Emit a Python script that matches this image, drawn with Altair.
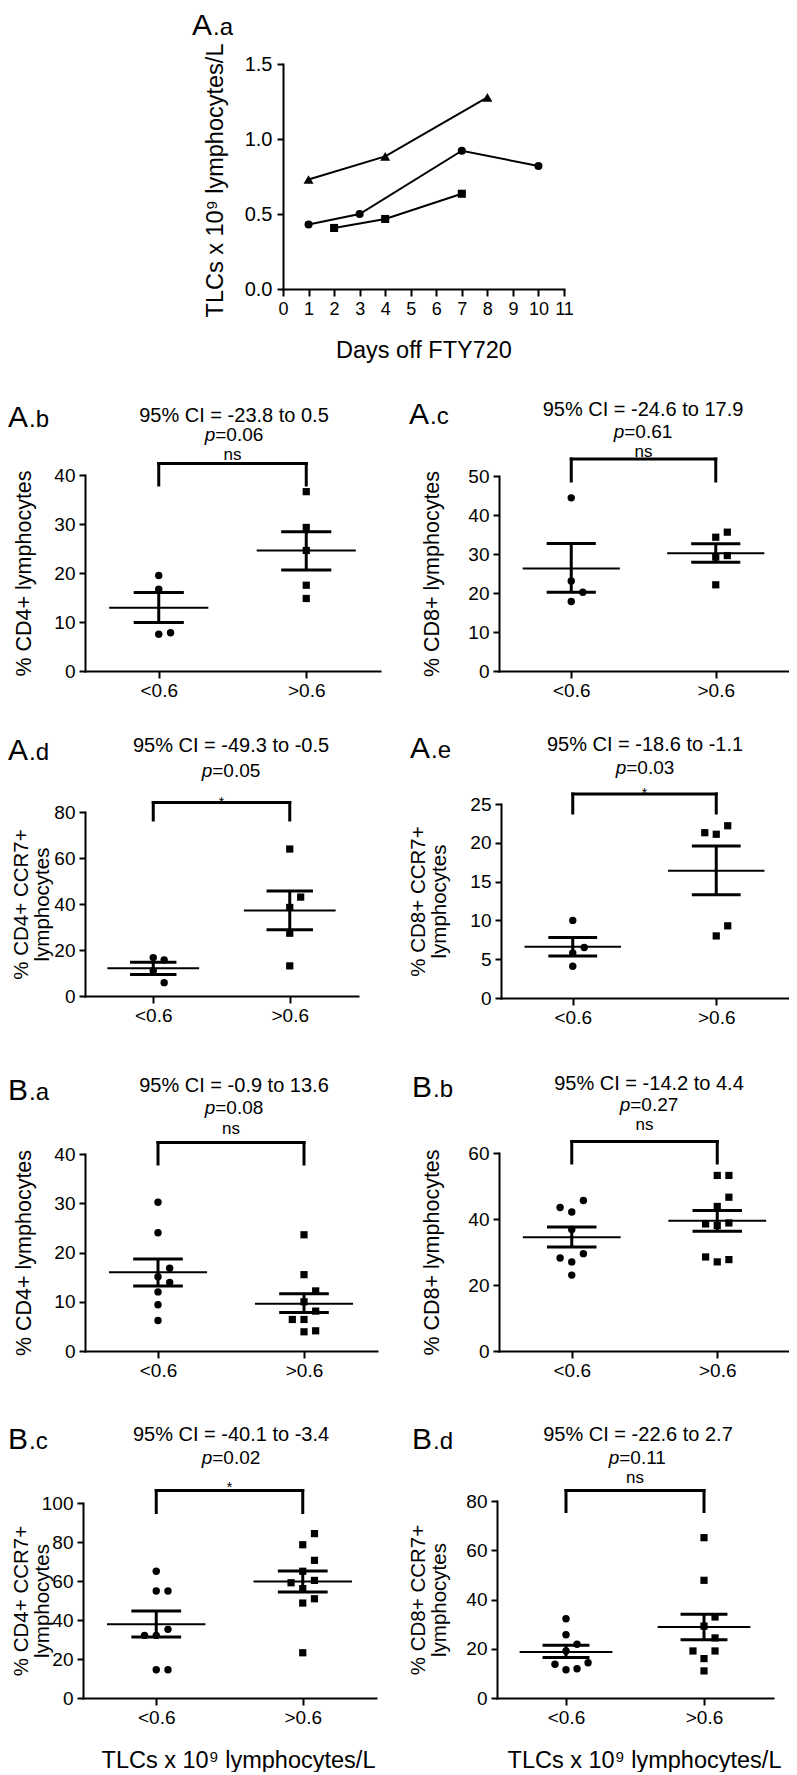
import altair as alt
import pandas as pd

FONT = "Liberation Sans"
OFF = 8            # page margin (chart origin on the page)
W, H = 781, 1764   # whole drawing area

# ---------------- Panel A.a : TLCs vs days off FTY720 ----------------
SERIES = ["Patient 1", "Patient 2", "Patient 3"]
P1_DAYS = [1, 4, 8]
P1_TLC = [0.73, 0.884, 1.277]
P2_DAYS = [1, 3, 7, 10]
P2_TLC = [0.43, 0.50, 0.922, 0.82]
P3_DAYS = [2, 4, 7]
P3_TLC = [0.407, 0.467, 0.635]
AA_XTICKS = list(range(0, 12))
AA_YTICKS = [0.0, 0.5, 1.0, 1.5]

# ---------------- Scatter panels ----------------
GROUPS = ["<0.6", ">0.6"]

AB_LOW = [19.5, 16.7, 7.5, 7.8]
AB_HIGH = [36.6, 29.3, 24.6, 17.5, 14.8]
AB_MEAN = [12.9, 24.6]
AB_SEM_LO = [9.9, 20.6]
AB_SEM_HI = [16.0, 28.4]

AC_LOW = [44.4, 23.1, 20.2, 17.8]
AC_HIGH = [34.3, 35.6, 29.2, 29.6, 22.1]
AC_MEAN = [26.3, 30.2]
AC_SEM_LO = [20.2, 27.9]
AC_SEM_HI = [32.7, 32.6]

AD_LOW = [16.7, 15.7, 11.0, 5.8]
AD_HIGH = [63.9, 38.5, 43.0, 27.3, 13.1]
AD_MEAN = [12.1, 37.2]
AD_SEM_LO = [9.4, 28.8]
AD_SEM_HI = [14.7, 45.7]

AE_LOW = [10.0, 5.8, 6.5, 4.1]
AE_HIGH = [21.1, 22.2, 21.3, 8.0, 9.3]
AE_MEAN = [6.6, 16.4]
AE_SEM_LO = [5.4, 13.3]
AE_SEM_HI = [7.8, 19.6]

BA_LOW = [30.2, 24.0, 15.1, 12.0, 9.4, 6.2, 13.9, 16.8]
BA_HIGH = [23.6, 15.5, 10.0, 12.2, 6.4, 8.1, 6.4, 3.9, 4.1]
BA_MEAN = [16.0, 9.6]
BA_SEM_LO = [13.2, 7.8]
BA_SEM_HI = [18.7, 11.6]

BB_LOW = [42.1, 45.6, 43.5, 36.8, 27.0, 29.5, 28.2, 23.0]
BB_HIGH = [43.8, 46.6, 53.2, 53.2, 38.0, 38.8, 38.5, 27.0, 27.7, 28.5]
BB_MEAN = [34.5, 39.5]
BB_SEM_LO = [31.5, 36.3]
BB_SEM_HI = [37.6, 42.6]

BC_LOW = [65.0, 54.9, 54.9, 32.1, 35.2, 32.1, 14.5, 14.5]
BC_HIGH = [78.6, 84.3, 65.0, 70.6, 56.1, 60.3, 59.1, 48.7, 50.9, 23.2]
BC_MEAN = [37.8, 59.8]
BC_SEM_LO = [31.3, 54.4]
BC_SEM_HI = [44.6, 65.1]

BD_LOW = [32.2, 25.7, 19.1, 21.8, 11.5, 11.9, 13.7, 14.3]
BD_HIGH = [65.1, 47.8, 29.2, 32.9, 24.4, 16.0, 19.1, 19.1, 11.0]
BD_MEAN = [18.7, 28.8]
BD_SEM_LO = [16.4, 23.7]
BD_SEM_HI = [21.4, 34.0]

CI_TEXT = {
    "A.b": "95% CI = -23.8 to 0.5", "A.c": "95% CI = -24.6 to 17.9",
    "A.d": "95% CI = -49.3 to -0.5", "A.e": "95% CI = -18.6 to -1.1",
    "B.a": "95% CI = -0.9 to 13.6", "B.b": "95% CI = -14.2 to 4.4",
    "B.c": "95% CI = -40.1 to -3.4", "B.d": "95% CI = -22.6 to 2.7",
}
P_TEXT = {"A.b": "0.06", "A.c": "0.61", "A.d": "0.05", "A.e": "0.03",
          "B.a": "0.08", "B.b": "0.27", "B.c": "0.02", "B.d": "0.11"}
SIG_TEXT = {"A.b": "ns", "A.c": "ns", "A.d": "*", "A.e": "*",
            "B.a": "ns", "B.b": "ns", "B.c": "*", "B.d": "ns"}
CD4 = "% CD4+ lymphocytes"
CD8 = "% CD8+ lymphocytes"
CD4R = ["% CD4+ CCR7+", "lymphocytes"]
CD8R = ["% CD8+ CCR7+", "lymphocytes"]
TLC_TITLE = "TLCs x 10\u2079 lymphocytes/L"

PANELS = [
    dict(key="A.b", low=AB_LOW, high=AB_HIGH, mean=AB_MEAN, lo=AB_SEM_LO, hi=AB_SEM_HI,
         ymax=40, yticks=[0, 10, 20, 30, 40], ytitle=CD4),
    dict(key="A.c", low=AC_LOW, high=AC_HIGH, mean=AC_MEAN, lo=AC_SEM_LO, hi=AC_SEM_HI,
         ymax=50, yticks=[0, 10, 20, 30, 40, 50], ytitle=CD8),
    dict(key="A.d", low=AD_LOW, high=AD_HIGH, mean=AD_MEAN, lo=AD_SEM_LO, hi=AD_SEM_HI,
         ymax=80, yticks=[0, 20, 40, 60, 80], ytitle=CD4R),
    dict(key="A.e", low=AE_LOW, high=AE_HIGH, mean=AE_MEAN, lo=AE_SEM_LO, hi=AE_SEM_HI,
         ymax=25, yticks=[0, 5, 10, 15, 20, 25], ytitle=CD8R),
    dict(key="B.a", low=BA_LOW, high=BA_HIGH, mean=BA_MEAN, lo=BA_SEM_LO, hi=BA_SEM_HI,
         ymax=40, yticks=[0, 10, 20, 30, 40], ytitle=CD4),
    dict(key="B.b", low=BB_LOW, high=BB_HIGH, mean=BB_MEAN, lo=BB_SEM_LO, hi=BB_SEM_HI,
         ymax=60, yticks=[0, 20, 40, 60], ytitle=CD8),
    dict(key="B.c", low=BC_LOW, high=BC_HIGH, mean=BC_MEAN, lo=BC_SEM_LO, hi=BC_SEM_HI,
         ymax=100, yticks=[0, 20, 40, 60, 80, 100], ytitle=CD4R, xtitle=TLC_TITLE),
    dict(key="B.d", low=BD_LOW, high=BD_HIGH, mean=BD_MEAN, lo=BD_SEM_LO, hi=BD_SEM_HI,
         ymax=80, yticks=[0, 20, 40, 60, 80], ytitle=CD8R, xtitle=TLC_TITLE),
]

# ---------------- layout (page pixels) ----------------
# tcx = anchor of the first line of the y-axis title
LAYOUT = {
    "A.b": dict(xl=85, xr=380, yt=475, yb=671, tcx=24, lx=8, lb=427, tx=234, ci=421.5, p=441, sig=460, br=463.5, leg=485),
    "A.c": dict(xl=499, xr=788, yt=476, yb=671, tcx=432, lx=409, lb=424, tx=643, ci=416, p=437.5, sig=457, br=459, leg=481),
    "A.d": dict(xl=85, xr=358, yt=812, yb=996, tcx=21, lx=8, lb=760, tx=231, ci=751.5, p=776.5, sig=807, br=802.5, leg=820),
    "A.e": dict(xl=501, xr=788, yt=804, yb=998, tcx=418, lx=410, lb=758, tx=645, ci=751, p=773.5, sig=798, br=794, leg=813),
    "B.a": dict(xl=85, xr=377, yt=1154, yb=1351, tcx=24, lx=8, lb=1100, tx=234, ci=1091.5, p=1114, sig=1133.5, br=1142.5, leg=1164),
    "B.b": dict(xl=499, xr=790, yt=1153, yb=1351, tcx=432, lx=412, lb=1097, tx=649, ci=1089.5, p=1110.5, sig=1130, br=1141.5, leg=1163),
    "B.c": dict(xl=83, xr=376, yt=1503, yb=1698, tcx=21, lx=8, lb=1449, tx=231, ci=1441, p=1463.5, sig=1492, br=1490.5, leg=1512.5, xtx=238, xty=1767),
    "B.d": dict(xl=497, xr=773, yt=1501, yb=1698, tcx=418, lx=412, lb=1449, tx=638, ci=1441, p=1463.5, sig=1483, br=1490.5, leg=1511.5, xtx=644, xty=1767),
}

MEAN_HALF = 0.336   # data units (x domain 0..2)
CAP_HALF = 0.17
STEP = 0.08
TS = 20             # CI text size
PS = 19             # p-value text size
NS = 17             # "ns" text size
ARIAL = {"p": 0.556, "=": 0.584, ".": 0.278}


def text_w(s, size):
    return sum(ARIAL.get(c, 0.556) for c in s) * size


def swarm(vals, ppu, thr=12.0):
    placed, out = [], []
    for v in vals:
        for c in (0, 1, -1, 2, -2, 3, -3):
            if all(pc != c or abs(pv - v) * ppu >= thr for pc, pv in placed):
                break
        placed.append((c, v))
        out.append(c * STEP)
    return out


def txt(s, x, y, size, style="normal", align="left", baseline="alphabetic"):
    return alt.Chart(pd.DataFrame({"t": [s]})).mark_text(
        font=FONT, fontSize=size, fontStyle=style, align=align,
        baseline=baseline, color="black"
    ).encode(x=alt.value(x - OFF), y=alt.value(y - OFF), text="t:N")


def hrule(x1, x2, y, w=3):
    return alt.Chart(pd.DataFrame({"a": [0]})).mark_rule(
        color="black", strokeWidth=w, strokeCap="square"
    ).encode(x=alt.value(x1 - OFF), x2=alt.value(x2 - OFF), y=alt.value(y - OFF))


def vrule(x, y1, y2, w=3):
    return alt.Chart(pd.DataFrame({"a": [0]})).mark_rule(
        color="black", strokeWidth=w, strokeCap="square"
    ).encode(x=alt.value(x - OFF), y=alt.value(y1 - OFF), y2=alt.value(y2 - OFF))


def panel_label(key, x, baseline):
    letter, suffix = key.split(".")
    return [txt(letter, x, baseline, 30), txt("." + suffix, x + 21, baseline, 24)]


def scatter(p):
    L = LAYOUT[p["key"]]
    xl, xr, yt, yb = L["xl"], L["xr"], L["yt"], L["yb"]

    def xs():
        return alt.Scale(domain=[0, 2], range=[xl - OFF, xr - OFF], nice=False, zero=False)

    def ys():
        return alt.Scale(domain=[0, p["ymax"]], range=[yb - OFF, yt - OFF], nice=False, zero=False)

    ppu = (yb - yt) / p["ymax"]
    rows = []
    for gi, vals in enumerate((p["low"], p["high"])):
        for v, o in zip(vals, swarm(vals, ppu)):
            rows.append({"group": GROUPS[gi], "pos": 0.5 + gi + o, "value": v})
    pts = pd.DataFrame(rows)
    stats = pd.DataFrame({"group": GROUPS, "c": [0.5, 1.5], "mean": p["mean"],
                          "lo": p["lo"], "hi": p["hi"]})
    stats["m1"] = stats["c"] - MEAN_HALF
    stats["m2"] = stats["c"] + MEAN_HALF
    stats["c1"] = stats["c"] - CAP_HALF
    stats["c2"] = stats["c"] + CAP_HALF

    xkw = dict(orient="bottom", offset=(yb - OFF) - H, values=[0.5, 1.5],
               labelExpr=f"datum.value < 1 ? '{GROUPS[0]}' : '{GROUPS[1]}'",
               tickSize=7, labelFontSize=19, labelPadding=3)
    if "xtitle" in p:
        xkw.update(title=p["xtitle"], titleX=L["xtx"] - OFF, titleY=L["xty"] - yb,
                   titleBaseline="alphabetic", titleFontSize=23.5)
    else:
        xkw["title"] = None
    xaxis = alt.Axis(**xkw)
    two_line = isinstance(p["ytitle"], list)
    yaxis = alt.Axis(orient="left", offset=-(xl - OFF), values=p["yticks"],
                     title=p["ytitle"], titleX=L["tcx"] - xl, titleBaseline="middle",
                     titleFontSize=20.5 if two_line else 21.5, titleLineHeight=21,
                     labelFontSize=19, labelPadding=4, tickSize=6)

    low_df = pts[pts["group"] == GROUPS[0]].reset_index(drop=True)
    high_df = pts[pts["group"] == GROUPS[1]].reset_index(drop=True)
    circ = alt.Chart(low_df).mark_circle(size=55, color="black", opacity=1).encode(
        x=alt.X("pos:Q", scale=xs(), axis=xaxis), y=alt.Y("value:Q", scale=ys(), axis=yaxis))
    sq = alt.Chart(high_df).mark_square(size=52, color="black", opacity=1).encode(
        x=alt.X("pos:Q", scale=xs(), axis=None), y=alt.Y("value:Q", scale=ys(), axis=None))
    base = alt.Chart(stats)
    meanl = base.mark_rule(color="black", strokeWidth=2).encode(
        x=alt.X("m1:Q", scale=xs(), axis=None), x2="m2:Q", y=alt.Y("mean:Q", scale=ys(), axis=None))
    caplo = base.mark_rule(color="black", strokeWidth=3).encode(
        x=alt.X("c1:Q", scale=xs(), axis=None), x2="c2:Q", y=alt.Y("lo:Q", scale=ys(), axis=None))
    caphi = base.mark_rule(color="black", strokeWidth=3).encode(
        x=alt.X("c1:Q", scale=xs(), axis=None), x2="c2:Q", y=alt.Y("hi:Q", scale=ys(), axis=None))
    vert = base.mark_rule(color="black", strokeWidth=3).encode(
        x=alt.X("c:Q", scale=xs(), axis=None), y=alt.Y("lo:Q", scale=ys(), axis=None), y2="hi:Q")
    layers = [circ, sq, meanl, caplo, caphi, vert]

    # annotations
    k = p["key"]
    layers += panel_label(k, L["lx"], L["lb"])
    layers.append(txt(CI_TEXT[k], L["tx"], L["ci"], TS, align="center"))
    rest = "=" + P_TEXT[k]
    wp, wr = text_w("p", PS), text_w(rest, PS)
    left = L["tx"] - (wp + wr) / 2
    layers.append(txt("p", left, L["p"], PS, style="italic"))
    layers.append(txt(rest, left + wp, L["p"], PS))
    c0 = xl + 0.25 * (xr - xl)
    c1 = xl + 0.75 * (xr - xl)
    sig = SIG_TEXT[k]
    layers.append(txt(sig, (c0 + c1) / 2, L["sig"], 14 if sig == "*" else NS, align="center"))
    layers.append(hrule(c0, c1, L["br"]))
    layers.append(vrule(c0, L["br"], L["leg"]))
    layers.append(vrule(c1, L["br"], L["leg"]))
    return layers


# ---------------- Panel A.a ----------------
aa_rows = []
for name, days, vals in zip(SERIES, (P1_DAYS, P2_DAYS, P3_DAYS), (P1_TLC, P2_TLC, P3_TLC)):
    for d, v in zip(days, vals):
        aa_rows.append({"series": name, "day": d, "tlc": v})
aa_df = pd.DataFrame(aa_rows)

AA_XL, AA_XR, AA_YT, AA_YB = 283, 564, 64, 289


def aa_xs():
    return alt.Scale(domain=[0, 11], range=[AA_XL - OFF, AA_XR - OFF], nice=False, zero=False)


def aa_ys():
    return alt.Scale(domain=[0, 1.5], range=[AA_YB - OFF, AA_YT - OFF], nice=False, zero=False)


aa_xaxis = alt.Axis(orient="bottom", offset=(AA_YB - OFF) - H, values=AA_XTICKS,
                    title="Days off FTY720", titleY=68, titleBaseline="alphabetic",
                    titleFontSize=23.5, tickSize=7, labelFontSize=18, labelPadding=4,
                    labelFlush=False)
aa_yaxis = alt.Axis(orient="left", offset=-(AA_XL - OFF), values=AA_YTICKS, format=".1f",
                    title=TLC_TITLE, titleX=215 - AA_XL, titleY=180 - OFF, titleBaseline="middle",
                    titleFontSize=23.5, labelFontSize=20, labelPadding=5, tickSize=6)
aa_lines = alt.Chart(aa_df).mark_line(color="black", strokeWidth=2).encode(
    x=alt.X("day:Q", scale=aa_xs(), axis=aa_xaxis),
    y=alt.Y("tlc:Q", scale=aa_ys(), axis=aa_yaxis),
    detail="series:N")
aa_pts = alt.Chart(aa_df).mark_point(filled=True, color="black", opacity=1).encode(
    x=alt.X("day:Q", scale=aa_xs(), axis=None),
    y=alt.Y("tlc:Q", scale=aa_ys(), axis=None),
    shape=alt.Shape("series:N", scale=alt.Scale(domain=SERIES, range=["triangle-up", "circle", "square"]),
                    legend=None),
    size=alt.condition(alt.datum.series == SERIES[0], alt.value(100), alt.value(65)))

all_layers = [aa_lines, aa_pts] + panel_label("A.a", 192, 35)
for p in PANELS:
    all_layers += scatter(p)

chart = alt.layer(*all_layers).resolve_scale(
    x="independent", y="independent", shape="independent"
).resolve_axis(
    x="independent", y="independent"
).properties(
    width=W, height=H, autosize=alt.AutoSizeParams(type="none"), padding=0
).configure(
    font=FONT
).configure_view(
    stroke=None
).configure_axis(
    domainColor="black", domainWidth=2, domainCap="square", tickColor="black", tickWidth=2,
    labelColor="black", labelFont=FONT, titleFont=FONT, titleFontWeight="normal",
    titleColor="black", grid=False, labelOverlap=False, labelFlush=False
)

chart.save("out.html", embed_options={"renderer": "svg", "actions": False})
